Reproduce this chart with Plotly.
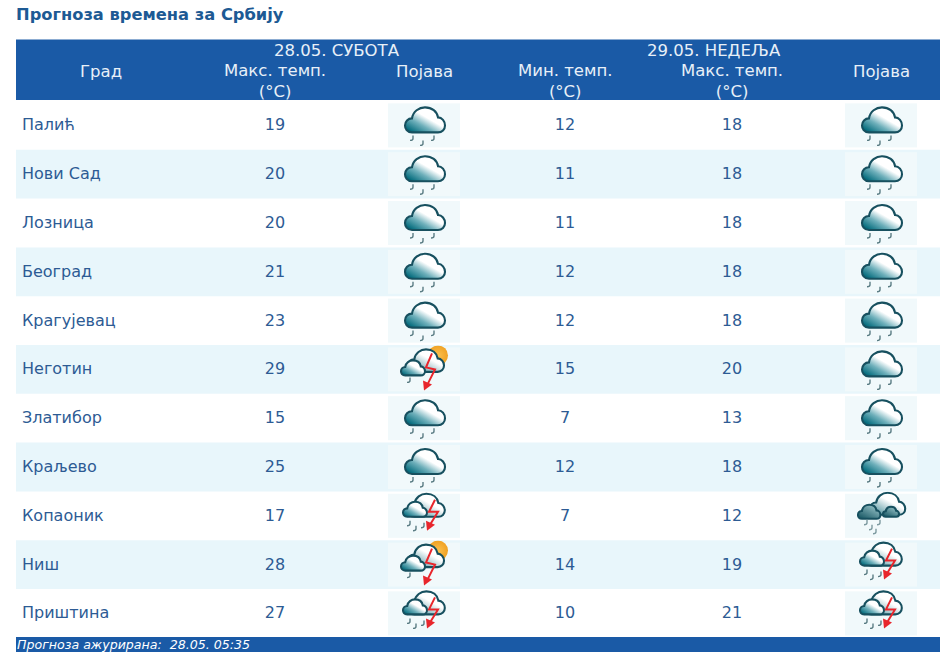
import base64
import plotly.graph_objects as go

W, H = 940, 655
FONT = "DejaVu Sans"
BLUE = "#1a5aa6"
TEXT = "#2d5b94"
STRIPE = "#e8f6fb"

cities = ["Палић", "Нови Сад", "Лозница", "Београд", "Крагујевац", "Неготин",
          "Златибор", "Краљево", "Копаоник", "Ниш", "Приштина"]
sat_max = [19, 20, 20, 21, 23, 29, 15, 25, 17, 28, 27]
sat_icon = ["rain", "rain", "rain", "rain", "rain", "sun_storm", "rain", "rain",
            "storm", "sun_storm", "storm"]
sun_min = [12, 11, 11, 12, 12, 15, 7, 12, 7, 14, 10]
sun_max = [18, 18, 18, 18, 18, 20, 13, 18, 12, 19, 21]
sun_icon = ["rain", "rain", "rain", "rain", "rain", "rain", "rain", "rain",
            "heavy", "storm", "storm"]

day_labels = ["28.05. СУБОТА", "29.05. НЕДЕЉА"]
col_labels = ["Град", "Макс. темп.<br>(°C)", "Појава", "Мин. темп.<br>(°C)",
              "Макс. темп.<br>(°C)", "Појава"]
title_text = "Прогноза времена за Србију"
footer_text = "Прогноза ажурирана:  28.05. 05:35"

# layout of the page in pixels
col_x = [101, 275, 424, 565, 732, 881]
col_y = [71, 81, 71, 81, 81, 71]
day_x = [337, 714]
ROW_H = 48.8
ROW0 = 125.4
TEXT_NUDGE = 1 / ROW_H  # row text sits 1px low in the original


def yp(px):
    return 1 - px / H


def cloud(x, y, s, grad="g", stroke="#17505f"):
    # x, y = left/top of the cloud box, s = scale
    d = ("M7 25 C2 25 0 21 0 18 C0 14 3 11 7 11 C8 4 14 0 20 0 C27 0 32 4 33 10 "
         "C37 10 40 14 40 18 C40 22 37 25 33 25 Z")
    return (f'<path transform="translate({x},{y}) scale({s})" d="{d}" fill="url(#{grad})" '
            f'stroke="{stroke}" stroke-width="{2.1 / s}"/>')


def drops(points, color="#5b7d84"):
    out = ""
    for x, y in points:
        out += (f'<path d="M{x} {y} v3 q0 2 -3 2" fill="none" stroke="{color}" '
                f'stroke-width="1.4"/>')
    return out


def bolt(pts, tip):
    line = " ".join(f"{a},{b}" for a, b in pts)
    tx, ty = tip
    return (f'<polyline points="{line}" fill="none" stroke="#e8262c" stroke-width="2"/>'
            f'<path d="M{tx} {ty} l-1 -10 l9 4 Z" fill="#e8262c"/>')


def icon_svg(kind):
    body = ""
    if kind == "rain":
        body = cloud(17, 4, 1) + drops([(25, 32), (35, 37), (46, 32)])
    elif kind == "storm":
        body = (cloud(20, 0, 0.92, "w") + cloud(15, 8, 0.6)
                + drops([(22, 27), (28, 32), (36, 29)])
                + bolt([(47, 6), (41, 18), (50, 18), (42, 31)], (39, 37)))
    elif kind == "sun_storm":
        body = ('<circle cx="50" cy="8" r="10" fill="url(#s)"/>'
                + cloud(20, 2, 0.9, "w") + cloud(13, 13, 0.6)
                + drops([(22, 30)])
                + bolt([(44, 6), (38, 20), (47, 22), (40, 36)], (36, 43)))
    elif kind == "heavy":
        body = (cloud(25, -1, 0.88, "w")
                + cloud(13, 11, 0.56, "d") + cloud(38, 13, 0.4, "d")
                + drops([(22, 26), (27, 31), (35, 26), (31, 35)], "#7d9aa0"))
    svg = (
        '<svg xmlns="http://www.w3.org/2000/svg" width="288" height="192" viewBox="0 0 72 48">'
        '<defs>'
        '<linearGradient id="g" x1="0.1" y1="0.9" x2="0.7" y2="0.25">'
        '<stop offset="0" stop-color="#066d7e"/><stop offset="0.4" stop-color="#6fb0bb"/>'
        '<stop offset="0.75" stop-color="#ffffff"/></linearGradient>'
        '<linearGradient id="w" x1="0.1" y1="0.9" x2="0.8" y2="0.1">'
        '<stop offset="0" stop-color="#4d919d"/><stop offset="0.65" stop-color="#ffffff"/></linearGradient>'
        '<linearGradient id="d" x1="0" y1="1" x2="0.8" y2="0">'
        '<stop offset="0" stop-color="#0e4f5c"/><stop offset="1" stop-color="#9cc7cc"/></linearGradient>'
        '<radialGradient id="s"><stop offset="0" stop-color="#fbc04e"/>'
        '<stop offset="1" stop-color="#f0a224"/></radialGradient>'
        '</defs>'
        '<rect x="0" y="2" width="72" height="44" fill="#f1f9fb"/>'
        f'<g transform="translate(0,2)">{body}</g></svg>'
    )
    return "data:image/svg+xml;base64," + base64.b64encode(svg.encode()).decode()


icons = {k: icon_svg(k) for k in ["rain", "storm", "sun_storm", "heavy"]}
rows = list(range(len(cities)))
text_y = [i + TEXT_NUDGE for i in rows]

fig = go.Figure()

# row text
fig.add_trace(go.Scatter(x=[22] * len(rows), y=text_y, text=cities, mode="text",
                         textposition="middle right",
                         textfont=dict(family=FONT, size=16, color=TEXT)))
for cx, vals in [(col_x[1], sat_max), (col_x[3], sun_min), (col_x[4], sun_max)]:
    fig.add_trace(go.Scatter(x=[cx] * len(rows), y=text_y, text=[str(v) for v in vals],
                             mode="text", textposition="middle center",
                             textfont=dict(family=FONT, size=16, color=TEXT)))

shapes = [
    dict(type="rect", xref="x", yref="paper", x0=16, x1=W, y0=yp(100), y1=yp(39.5),
         fillcolor=BLUE, line_width=0, layer="below"),
    dict(type="rect", xref="x", yref="paper", x0=16, x1=W, y0=yp(652), y1=yp(637),
         fillcolor=BLUE, line_width=0, layer="below"),
]
for i in rows:
    if i % 2 == 1:
        shapes.append(dict(type="rect", xref="x", yref="y", x0=16, x1=W, y0=i - 0.5, y1=i + 0.5,
                           fillcolor=STRIPE, line_width=0, layer="below"))

images = []
for cx, kinds in [(col_x[2], sat_icon), (col_x[5], sun_icon)]:
    for i, k in zip(rows, kinds):
        images.append(dict(source=icons[k], xref="x", yref="y", x=cx, y=i,
                           sizex=72, sizey=48 / ROW_H, xanchor="center", yanchor="middle",
                           sizing="stretch", layer="above"))

annotations = [
    dict(text=f"<b>{title_text}</b>", x=13.5, y=yp(14.5), xref="x", yref="paper", showarrow=False,
         xanchor="left", yanchor="middle", font=dict(family=FONT, size=16.3, color="#1d5a94")),
    dict(text=f"<i>{footer_text}</i>", x=15, y=yp(644.5), xref="x", yref="paper", showarrow=False,
         xanchor="left", yanchor="middle", font=dict(family=FONT, size=12.6, color="#ffffff")),
]
for x, label in zip(day_x, day_labels):
    annotations.append(dict(text=label, x=x, y=yp(50), xref="x", yref="paper", showarrow=False,
                            yanchor="middle", font=dict(family=FONT, size=16.5, color="#e8f0f8")))
for x, y, label in zip(col_x, col_y, col_labels):
    annotations.append(dict(text=label, x=x, y=yp(y), xref="x", yref="paper", showarrow=False,
                            yanchor="middle", font=dict(family=FONT, size=16.5, color="#e8f0f8")))

fig.update_layout(
    width=W, height=H, margin=dict(l=0, r=0, t=0, b=0),
    paper_bgcolor="white", plot_bgcolor="white", showlegend=False,
    shapes=shapes, images=images, annotations=annotations,
    xaxis=dict(range=[0, W], visible=False, fixedrange=True),
    yaxis=dict(range=[(H - ROW0) / ROW_H, -ROW0 / ROW_H], visible=False, fixedrange=True),
)

fig.write_html("out.html", config={"displayModeBar": False},
               post_script="document.body.style.margin='0';")
